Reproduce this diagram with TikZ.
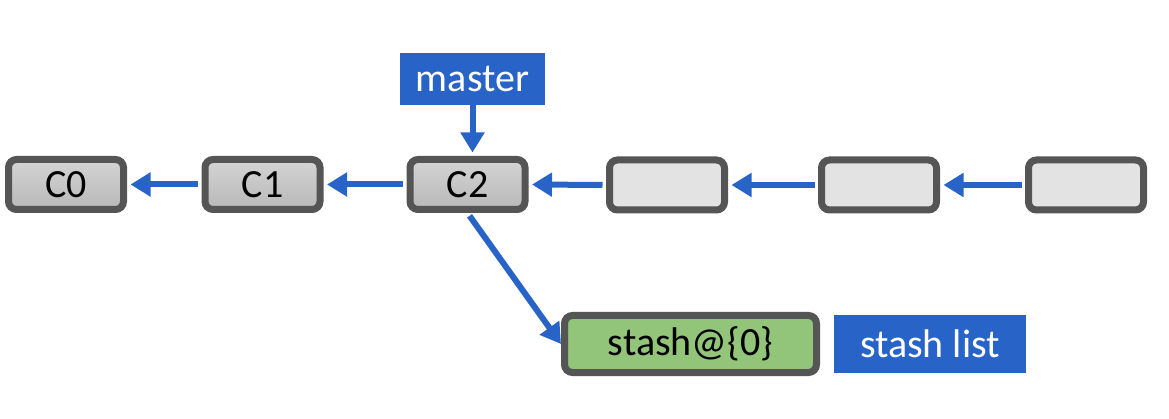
\documentclass[tikz,border=0pt]{standalone}
\usepackage{fontspec}
\setmainfont{Carlito}
\usetikzlibrary{arrows.meta}
\definecolor{gblue}{RGB}{40,100,200}
\definecolor{gborder}{RGB}{85,85,85}
\definecolor{gempty}{RGB}{227,227,227}
\definecolor{gtop}{RGB}{212,212,212}
\definecolor{gbot}{RGB}{184,184,184}
\definecolor{ggreen}{RGB}{146,196,122}
\tikzset{
  commit/.style={rectangle, draw=gborder, line width=7pt, rounded corners=8pt,
    minimum width=115pt, minimum height=50pt, inner sep=0pt,
    font=\fontsize{40}{44}\selectfont, text=black},
  filled/.style={commit, top color=gtop, bottom color=gbot},
  empty/.style={commit, fill=gempty},
  label/.style={rectangle, fill=gblue, text=white, inner sep=0pt,
    font=\fontsize{40}{44}\selectfont},
  link/.style={draw=gblue, line width=6pt, -{Triangle[width=23pt,length=20pt]}}
}
\begin{document}
\begin{tikzpicture}[x=1pt,y=-1pt]
\useasboundingbox (0,0) rectangle (1169,419);
\node[filled] (c0) at (66,184.5) {C0};
\node[filled] (c1) at (262.5,184.5) {C1};
\node[filled] (c2) at (467.5,184.5) {C2};
\node[empty] (b4) at (667,185) {};
\node[empty] (b5) at (879,185) {};
\node[empty] (b6) at (1086,185) {};
\node[label, minimum width=145pt, minimum height=52pt] (master) at (472.5,79) {master};
\node[commit, fill=ggreen, minimum width=252pt, minimum height=57pt] (stash) at (690.5,344) {stash@\{0\}};
\node[label, minimum width=192pt, minimum height=58pt] (slist) at (930,344) {stash list};
\draw[link, shorten <=3.5pt, shorten >=3.5pt] (c1.west) -- (c0.east);
\draw[link, shorten <=3.5pt, shorten >=3.5pt] (c2.west) -- (c1.east);
\draw[link, shorten <=3.5pt, shorten >=3.5pt] (b4.west) -- (c2.east);
\draw[link, shorten <=3.5pt, shorten >=3.5pt] (b5.west) -- (b4.east);
\draw[link, shorten <=3.5pt, shorten >=3.5pt] (b6.west) -- (b5.east);
\draw[link, shorten >=3.5pt] (master.south) -- (master.south |- c2.north);
\draw[link, shorten <=3.5pt] (c2.south) -- (stash.west);
\end{tikzpicture}
\end{document}
